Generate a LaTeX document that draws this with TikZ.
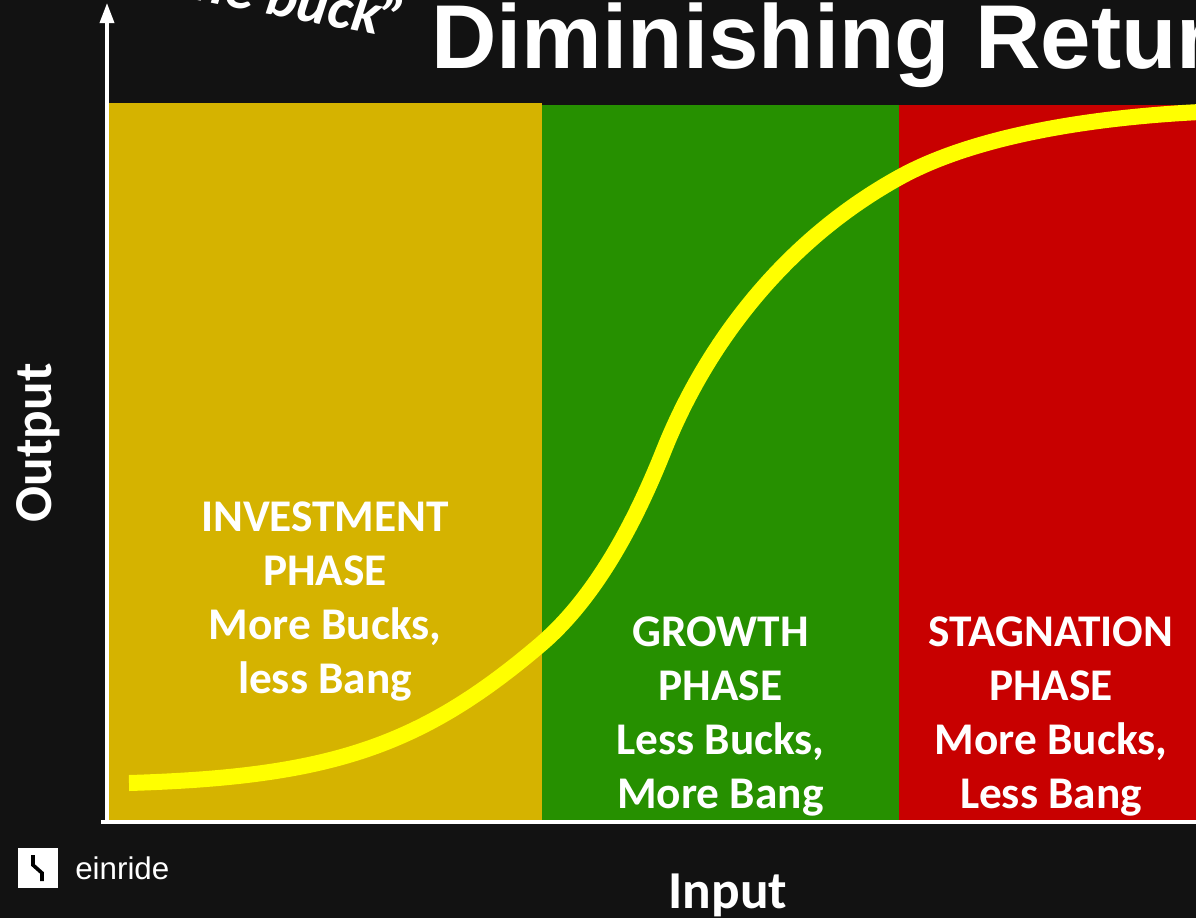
\documentclass[tikz,border=0pt]{standalone}
\usepackage{fontspec}
\setmainfont{Carlito}
\newfontfamily\titlefont{Liberation Sans}
\newfontfamily\logofont{Liberation Sans}
\usetikzlibrary{arrows.meta}
\definecolor{bg}{HTML}{121212}
\definecolor{gold}{HTML}{D5B300}
\definecolor{grn}{HTML}{269000}
\definecolor{rd}{HTML}{C80000}
\definecolor{curvey}{HTML}{FFFF00}
\tikzset{
  phaselabel/.style={text=white, align=center, inner sep=0pt, anchor=north,
    font=\bfseries\fontsize{34pt}{40.5pt}\selectfont},
  axisline/.style={draw=white, line width=2.6pt},
  axislabel/.style={text=white, inner sep=0pt, font=\bfseries\fontsize{40pt}{48pt}\selectfont},
  sline/.style={draw=curvey, line width=12pt},
}
\begin{document}
\begin{tikzpicture}[x=0.75pt,y=-0.75pt]
\useasboundingbox (0,0) rectangle (1196,918);
\clip (0,0) rectangle (1196,918);
\fill[bg] (0,0) rectangle (1196,918);
% phase backgrounds
\fill[gold] (109,103) rectangle (542,820);
\fill[grn] (542,105) rectangle (899,820);
\fill[rd] (899,105) rectangle (1196,820);
% axes
\coordinate (yb) at (107,824);
\coordinate (yt) at (107,3);
\coordinate (xl) at (101,822);
\coordinate (xr) at (1200,822);
\draw[axisline, -{Triangle[width=10.5pt,length=15pt]}] (yb) -- (yt);
\draw[axisline] (xl) -- (xr);
% S-curve
\coordinate (c0) at (129,783);
\coordinate (c1) at (540,645);
\coordinate (c2) at (664,450);
\coordinate (c3) at (900,177);
\coordinate (c4) at (1200,112);
\draw[sline] (c0) .. controls (329,777) and (420,747) .. (c1)
  .. controls (600,594) and (639,512.5) .. (c2)
  .. controls (709,337.5) and (790,237.5) .. (c3)
  .. controls (970,138.5) and (1080,118) .. (c4);
% labels
\node[phaselabel] (inv) at (325,501) {INVESTMENT\\PHASE\\More Bucks,\\less Bang};
\node[phaselabel] (gro) at (720.5,616) {GROWTH\\PHASE\\Less Bucks,\\More Bang};
\node[phaselabel] (sta) at (1051,616) {STAGNATION\\PHASE\\More Bucks,\\Less Bang};
\node[axislabel, anchor=base] (inp) at (728,908) {Input};
\node[axislabel, anchor=base, rotate=90] (outp) at (51,443) {Output};
% title
\node[text=white, inner sep=0pt, anchor=base west, font=\titlefont\bfseries\fontsize{68pt}{80pt}\selectfont] (title) at (431,68) {Diminishing Returns};
\node[text=white, inner sep=0pt, anchor=base east, rotate=-11, font=\bfseries\itshape\fontsize{44pt}{48pt}\selectfont] (quote) at (402,40) {the buck”};
% logo
\node[fill=white, minimum width=30pt, minimum height=30pt, inner sep=0pt] (logo) at (38,868) {};
\coordinate (l1) at (33,855);
\coordinate (l2) at (33,865);
\coordinate (l3) at (42,873);
\coordinate (l4) at (42,881);
\draw[black, line width=2.7pt] (l1) -- (l2) -- (l3) -- (l4);
\node[text=white, inner sep=0pt, anchor=base west, font=\logofont\fontsize{23.5pt}{26pt}\selectfont] (brand) at (75,879) {einride};
\end{tikzpicture}
\end{document}
